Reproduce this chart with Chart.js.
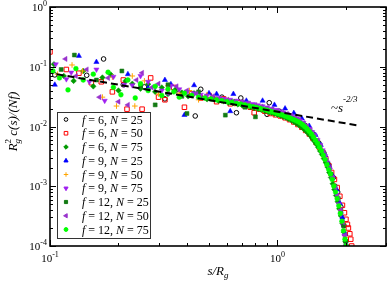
<!DOCTYPE html>
<html>
<head>
<meta charset="utf-8">
<script src="https://cdn.jsdelivr.net/npm/chart.js@4.4.1/dist/chart.umd.min.js"></script>
<style>
  html, body { margin: 0; padding: 0; background: #fff; }
  canvas { display: block; }
</style>
</head>
<body>
<canvas id="chart" width="391" height="284"></canvas>
<script>
// legend values: f (arms) and N for each series
const fValues = [6, 6, 6, 9, 9, 9, 12, 12, 12];
const nValues = [25, 50, 75, 25, 50, 75, 25, 50, 75];

// [s/Rg, Rg^2 c(s)/(Nf)]
const f6N25 = [[0.105,0.073],[0.145,0.072],[0.172,0.135],[0.21,0.05],[0.26,0.046],[0.32,0.029],[0.36,0.041],[0.435,0.015],[0.46,0.042],[0.52,0.03],[0.57,0.031],[0.66,0.017],[0.69,0.030],[0.78,0.022],[0.90,0.016],[0.92,0.025],[1.02,0.018],[1.12,0.015],[1.22,0.013],[1.32,0.0105],[1.42,0.0078],[1.52,0.0053],[1.6,0.0036],[1.68,0.0023],[1.76,0.0014],[1.84,0.0008],[1.9,0.00045],[1.96,0.00022],[2.0,0.00012]];

const f6N50 = [[0.1,0.177],[0.118,0.09],[0.134,0.078],[0.152,0.054],[0.168,0.056],[0.188,0.038],[0.21,0.06],[0.218,0.0195],[0.254,0.0195],[0.277,0.065],[0.30,0.031],[0.32,0.028],[0.35,0.045],[0.39,0.021],[0.42,0.035],[0.46,0.030],[0.50,0.033],[0.54,0.026],[0.58,0.029],[0.62,0.024],[0.67,0.025],[0.72,0.022],[0.76,0.021],[0.79,0.017],[0.84,0.0195],[0.88,0.018],[0.93,0.0165],[0.98,0.0157],[1.03,0.015],[1.08,0.014],[1.13,0.013],[1.18,0.0119],[1.23,0.0108],[1.28,0.0097],[1.33,0.0086],[1.38,0.0075],[1.43,0.0064],[1.48,0.0054],[1.53,0.0045],[1.58,0.0037],[1.63,0.0029],[1.68,0.0022],[1.73,0.0017],[1.78,0.0013],[1.83,0.00095],[1.88,0.00068],[1.93,0.00048],[1.97,0.00036],[2.0,0.00028],[2.03,0.00023],[2.05,0.0002],[2.08,0.00016],[2.1,0.00013],[2.12,0.0001]];

const f6N75 = [[0.104,0.11],[0.115,0.07],[0.127,0.058],[0.14,0.085],[0.155,0.047],[0.17,0.066],[0.185,0.074],[0.2,0.04],[0.215,0.058],[0.23,0.052],[0.25,0.043],[0.27,0.051],[0.29,0.038],[0.31,0.045],[0.33,0.035],[0.355,0.041],[0.38,0.037],[0.405,0.032],[0.43,0.036],[0.46,0.031],[0.49,0.0285],[0.52,0.03],[0.55,0.027],[0.58,0.0265],[0.61,0.025],[0.64,0.0245],[0.67,0.0235],[0.70,0.0226],[0.73,0.0218],[0.76,0.021],[0.79,0.0203],[0.82,0.0196],[0.85,0.0189],[0.88,0.0182],[0.91,0.0176],[0.94,0.017],[0.97,0.0164],[1.0,0.0158],[1.03,0.0152],[1.06,0.0146],[1.09,0.014],[1.12,0.0134],[1.15,0.0127],[1.18,0.012],[1.21,0.0113],[1.24,0.0106],[1.27,0.0099],[1.3,0.0092],[1.33,0.0085],[1.36,0.0078],[1.39,0.0071],[1.42,0.0064],[1.45,0.0057],[1.48,0.0051],[1.51,0.0045],[1.54,0.0039],[1.57,0.0034],[1.6,0.0029],[1.63,0.0025],[1.66,0.0021],[1.69,0.0017],[1.72,0.0014],[1.75,0.0011],[1.78,0.00088],[1.81,0.0007],[1.84,0.00055],[1.87,0.00042],[1.9,0.00032],[1.93,0.00024],[1.96,0.00017],[1.99,0.00012],[2.02,0.0001]];

const f9N25 = [[0.105,0.05],[0.134,0.152],[0.16,0.12],[0.22,0.075],[0.27,0.044],[0.32,0.06],[0.34,0.051],[0.39,0.0156],[0.43,0.049],[0.50,0.036],[0.54,0.035],[0.62,0.018],[0.64,0.035],[0.73,0.027],[0.86,0.027],[0.97,0.023],[1.08,0.020],[1.18,0.0168],[1.28,0.0136],[1.38,0.0102],[1.47,0.0072],[1.55,0.0049],[1.62,0.0033],[1.69,0.0022],[1.75,0.0015],[1.82,0.00088],[1.88,0.00052],[1.93,0.0003],[1.98,0.00016],[2.0,0.0001]];

const f9N50 = [[0.108,0.075],[0.125,0.107],[0.139,0.085],[0.17,0.031],[0.188,0.067],[0.196,0.022],[0.23,0.07],[0.236,0.022],[0.26,0.058],[0.30,0.035],[0.33,0.048],[0.37,0.036],[0.41,0.040],[0.45,0.028],[0.49,0.034],[0.53,0.030],[0.57,0.027],[0.61,0.028],[0.65,0.024],[0.70,0.025],[0.75,0.022],[0.80,0.0215],[0.85,0.020],[0.90,0.019],[0.95,0.0182],[1.0,0.0172],[1.06,0.016],[1.12,0.0148],[1.18,0.0136],[1.24,0.0122],[1.30,0.0106],[1.36,0.0089],[1.42,0.0072],[1.48,0.0056],[1.54,0.0042],[1.60,0.0031],[1.66,0.0022],[1.72,0.0015],[1.78,0.001],[1.84,0.00065],[1.9,0.0004],[1.95,0.00024],[1.99,0.00014],[2.02,0.0001]];

const f9N75 = [[0.106,0.11],[0.118,0.062],[0.124,0.08],[0.149,0.056],[0.16,0.09],[0.174,0.027],[0.19,0.068],[0.212,0.05],[0.23,0.049],[0.25,0.07],[0.27,0.056],[0.29,0.046],[0.31,0.04],[0.34,0.048],[0.37,0.042],[0.40,0.038],[0.43,0.036],[0.46,0.034],[0.49,0.033],[0.52,0.031],[0.55,0.030],[0.58,0.029],[0.62,0.028],[0.66,0.027],[0.70,0.026],[0.74,0.025],[0.78,0.0238],[0.82,0.0227],[0.86,0.0218],[0.90,0.0208],[0.94,0.0198],[0.98,0.019],[1.02,0.018],[1.06,0.0172],[1.10,0.0163],[1.14,0.0155],[1.18,0.0146],[1.22,0.0136],[1.26,0.0126],[1.30,0.0115],[1.34,0.0104],[1.38,0.0092],[1.42,0.0081],[1.46,0.007],[1.50,0.0059],[1.54,0.0049],[1.58,0.004],[1.62,0.0032],[1.66,0.0025],[1.70,0.0019],[1.74,0.0014],[1.78,0.001],[1.82,0.00072],[1.86,0.0005],[1.9,0.00034],[1.94,0.00022],[1.97,0.00015],[2.0,0.0001]];

const f12N25 = [[0.112,0.09],[0.128,0.157],[0.16,0.06],[0.207,0.085],[0.25,0.048],[0.29,0.023],[0.33,0.05],[0.38,0.032],[0.40,0.0165],[0.45,0.038],[0.52,0.029],[0.59,0.0155],[0.64,0.026],[0.72,0.021],[0.80,0.0145],[0.88,0.019],[0.97,0.017],[1.06,0.0152],[1.15,0.0135],[1.24,0.0115],[1.33,0.0093],[1.42,0.0069],[1.5,0.0052],[1.58,0.0035],[1.65,0.0024],[1.72,0.0016],[1.79,0.001],[1.85,0.00062],[1.9,0.00038],[1.95,0.00022],[1.99,0.00012]];

const f12N50 = [[0.117,0.135],[0.13,0.07],[0.145,0.09],[0.165,0.031],[0.18,0.065],[0.2,0.026],[0.22,0.023],[0.24,0.06],[0.254,0.079],[0.28,0.045],[0.30,0.052],[0.33,0.036],[0.36,0.047],[0.40,0.04],[0.44,0.035],[0.48,0.031],[0.52,0.032],[0.56,0.029],[0.60,0.028],[0.65,0.026],[0.70,0.0255],[0.75,0.024],[0.80,0.0228],[0.85,0.0215],[0.90,0.0205],[0.95,0.0195],[1.0,0.0184],[1.05,0.0173],[1.1,0.0162],[1.15,0.015],[1.2,0.0139],[1.25,0.0127],[1.3,0.0114],[1.35,0.01],[1.4,0.0086],[1.45,0.0072],[1.5,0.0059],[1.55,0.0047],[1.6,0.0036],[1.65,0.0027],[1.7,0.002],[1.75,0.0014],[1.8,0.00095],[1.85,0.00062],[1.9,0.0004],[1.94,0.00025],[1.98,0.00015],[2.01,0.0001]];

const f12N75 = [[0.103,0.085],[0.11,0.065],[0.12,0.041],[0.13,0.093],[0.14,0.06],[0.155,0.075],[0.18,0.081],[0.19,0.045],[0.205,0.034],[0.22,0.06],[0.237,0.03],[0.25,0.052],[0.27,0.040],[0.29,0.047],[0.31,0.033],[0.33,0.042],[0.35,0.038],[0.37,0.031],[0.39,0.036],[0.42,0.033],[0.45,0.031],[0.48,0.03],[0.51,0.029],[0.54,0.028],[0.57,0.027],[0.6,0.026],[0.63,0.0252],[0.66,0.0244],[0.69,0.0237],[0.72,0.023],[0.75,0.0222],[0.78,0.0215],[0.81,0.0208],[0.84,0.0201],[0.87,0.0194],[0.9,0.0187],[0.93,0.018],[0.96,0.0174],[0.99,0.0168],[1.02,0.0162],[1.05,0.0156],[1.08,0.015],[1.11,0.0144],[1.14,0.0138],[1.17,0.0132],[1.2,0.0127],[1.23,0.0121],[1.26,0.0114],[1.29,0.0107],[1.32,0.0099],[1.35,0.0091],[1.38,0.0083],[1.41,0.0075],[1.44,0.0067],[1.47,0.0059],[1.5,0.0052],[1.53,0.0045],[1.56,0.0039],[1.59,0.0033],[1.62,0.0028],[1.65,0.0023],[1.68,0.0019],[1.71,0.0016],[1.74,0.0013],[1.77,0.001],[1.8,0.0008],[1.83,0.00062],[1.86,0.00047],[1.89,0.00035],[1.92,0.00026],[1.95,0.00018],[1.98,0.00013],[2.0,0.0001]];

// ~ s^(-2/3) guide line, end points
const guideS = [0.107, 2.23];
const guideC = [0.075, 0.0105];

// axis ticks
const xMajor = [0.1, 1];
const xMinor = [0.2, 0.3, 0.4, 0.5, 0.6, 0.7, 0.8, 0.9, 2, 3];
const xMajorExp = ['-1', '0'];
const yMajor = [1e-4, 1e-3, 1e-2, 1e-1, 1];
const yMajorExp = ['-4', '-3', '-2', '-1', '0'];
const yMinorMult = [2, 3, 4, 5, 6, 7, 8, 9];

const allSeries = [f6N25, f6N50, f6N75, f9N25, f9N50, f9N75, f12N25, f12N50, f12N75];
const styles = [
  { pointStyle: 'circle', color: '#000000', fill: false, r: 2.3, rot: 0 },
  { pointStyle: 'rect', color: '#ff0000', fill: false, r: 3.2, rot: 0 },
  { pointStyle: 'rectRot', color: '#009a00', fill: true, r: 2.8, rot: 0 },
  { pointStyle: 'triangle', color: '#0000ff', fill: true, r: 3, rot: 0 },
  { pointStyle: 'cross', color: '#ffa500', fill: false, r: 2.8, rot: 0 },
  { pointStyle: 'triangle', color: '#a020f0', fill: true, r: 3, rot: 180 },
  { pointStyle: 'rect', color: '#137a13', fill: true, r: 2.8, rot: 0 },
  { pointStyle: 'triangle', color: '#9932cc', fill: true, r: 3, rot: 270 },
  { pointStyle: 'circle', color: '#00ff00', fill: true, r: 2.4, rot: 0 }
];

const serif = '"Liberation Serif", "Times New Roman", serif';

const datasets = allSeries.map((pts, i) => ({
  label: 'f = ' + fValues[i] + ', N = ' + nValues[i],
  data: pts.map(p => ({ x: p[0], y: p[1] })),
  pointStyle: styles[i].pointStyle,
  pointRotation: styles[i].rot,
  pointRadius: styles[i].r,
  pointBackgroundColor: styles[i].fill ? styles[i].color : 'rgba(0,0,0,0)',
  pointBorderColor: styles[i].color,
  pointBorderWidth: styles[i].fill ? 0.5 : 1,
  order: 20 - i
}));

datasets.push({
  type: 'line',
  label: 'guide',
  data: guideS.map((s, i) => ({ x: s, y: guideC[i] })),
  borderColor: '#000',
  borderWidth: 2,
  borderDash: [7, 4],
  pointRadius: 0,
  fill: false,
  order: -10
});

function drawPow(ctx, base, exp, x, y, align) {
  ctx.font = '11px ' + serif;
  const wb = ctx.measureText(base).width;
  ctx.font = '8px ' + serif;
  const we = ctx.measureText(exp).width;
  const w = wb + we;
  const x0 = align === 'right' ? x - w : (align === 'center' ? x - w / 2 : x);
  ctx.textAlign = 'left';
  ctx.textBaseline = 'alphabetic';
  ctx.font = '11px ' + serif;
  ctx.fillText(base, x0, y);
  ctx.font = '8px ' + serif;
  ctx.fillText(exp, x0 + wb, y - 5);
}

// draws parts [text, font, dy] one after another, returns width
function drawRun(ctx, parts, x, y, measureOnly) {
  let cx = x;
  parts.forEach(p => {
    ctx.font = p[1];
    if (!measureOnly) ctx.fillText(p[0], cx, y + (p[2] || 0));
    if (!p[3]) cx += ctx.measureText(p[0]).width;
  });
  return cx - x;
}

const framePlugin = {
  id: 'frame',
  afterDraw(chart) {
    const ctx = chart.ctx;
    const a = chart.chartArea;
    const xs = chart.scales.x, ys = chart.scales.y;
    ctx.save();
    ctx.strokeStyle = '#000';
    ctx.fillStyle = '#000';

    // ticks, pointing inward on all four sides
    ctx.lineWidth = 1;
    const tick = (x1, y1, x2, y2) => { ctx.beginPath(); ctx.moveTo(x1, y1); ctx.lineTo(x2, y2); ctx.stroke(); };
    xMajor.concat(xMinor).forEach(v => {
      const len = xMajor.includes(v) ? 6 : 3;
      const px = Math.round(xs.getPixelForValue(v)) + 0.5;
      tick(px, a.bottom, px, a.bottom - len);
      tick(px, a.top, px, a.top + len);
    });
    yMajor.forEach((v, i) => {
      const py = Math.round(ys.getPixelForValue(v)) + 0.5;
      tick(a.left, py, a.left + 6, py);
      tick(a.right, py, a.right - 6, py);
      if (i < yMajor.length - 1) {
        yMinorMult.forEach(m => {
          const q = Math.round(ys.getPixelForValue(v * m)) + 0.5;
          tick(a.left, q, a.left + 3, q);
          tick(a.right, q, a.right - 3, q);
        });
      }
    });

    ctx.lineWidth = 1.6;
    ctx.strokeRect(a.left, a.top, a.right - a.left, a.bottom - a.top);

    // tick labels
    yMajor.forEach((v, i) => drawPow(ctx, '10', yMajorExp[i], a.left - 3, ys.getPixelForValue(v) + 4, 'right'));
    xMajor.forEach((v, i) => drawPow(ctx, '10', xMajorExp[i], xs.getPixelForValue(v), a.bottom + 16, 'center'));

    // x title  s/Rg
    const it13 = 'italic 13px ' + serif, it9 = 'italic 9px ' + serif, rm9 = '9px ' + serif, rm13 = '13px ' + serif;
    const xParts = [['s/R', it13, 0], ['g', it9, 3]];
    const xw = drawRun(ctx, xParts, 0, 0, true);
    drawRun(ctx, xParts, (a.left + a.right) / 2 - xw / 2, a.bottom + 29);

    // y title  Rg^2 c(s)/(Nf)
    const yParts = [['R', it13, 0], ['g', it9, 3, true], ['2', rm9, -6], [' c(s)/(', it13, 0], ['Nf', it13, 0], [')', it13, 0]];
    ctx.translate(17, (a.top + a.bottom) / 2 - 5);
    ctx.rotate(-Math.PI / 2);
    const yw = drawRun(ctx, yParts, 0, 0, true);
    drawRun(ctx, yParts, -yw / 2, 0);
    ctx.setTransform(1, 0, 0, 1, 0, 0);

    // guide annotation  ~s^-2/3
    drawRun(ctx, [['~', rm13, 0], ['s', it13, 0], ['-2/3', 'italic 9px ' + serif, -10]], 331, 112);

    // legend box
    const lx = 57, ly = 112, lw = 93, lh = 126;
    ctx.fillStyle = '#fff';
    ctx.fillRect(lx, ly, lw, lh);
    ctx.lineWidth = 1;
    ctx.strokeStyle = '#333';
    ctx.strokeRect(lx + 0.5, ly + 0.5, lw, lh);
    styles.forEach((st, i) => {
      const cy = 119.5 + i * 13.75;
      ctx.fillStyle = st.fill ? st.color : 'rgba(0,0,0,0)';
      ctx.strokeStyle = st.color;
      Chart.helpers.drawPoint(ctx, {
        pointStyle: st.pointStyle, rotation: st.rot, radius: st.r * 0.8,
        borderWidth: st.fill ? 0.5 : 1
      }, 66, cy);
      ctx.fillStyle = '#000';
      ctx.textAlign = 'left';
      ctx.textBaseline = 'alphabetic';
      drawRun(ctx, [['f', 'italic 12px ' + serif, 0], [' = ' + fValues[i] + ', ', '12px ' + serif, 0],
        ['N', 'italic 12px ' + serif, 0], [' = ' + nValues[i], '12px ' + serif, 0]], 82, cy + 4);
    });
    ctx.restore();
  }
};

window.onload = function () {
  const ctx = document.getElementById('chart').getContext('2d');
  new Chart(ctx, {
    type: 'scatter',
    data: { datasets: datasets },
    options: {
      responsive: false,
      animation: false,
      devicePixelRatio: 1,
      layout: { padding: { left: 50, right: 1, top: 7, bottom: 38 } },
      scales: {
        x: { type: 'logarithmic', min: 0.1, max: 3, display: false },
        y: { type: 'logarithmic', min: 1e-4, max: 1, display: false }
      },
      plugins: { legend: { display: false }, tooltip: { enabled: false } }
    },
    plugins: [framePlugin]
  });
};
</script>
</body>
</html>
